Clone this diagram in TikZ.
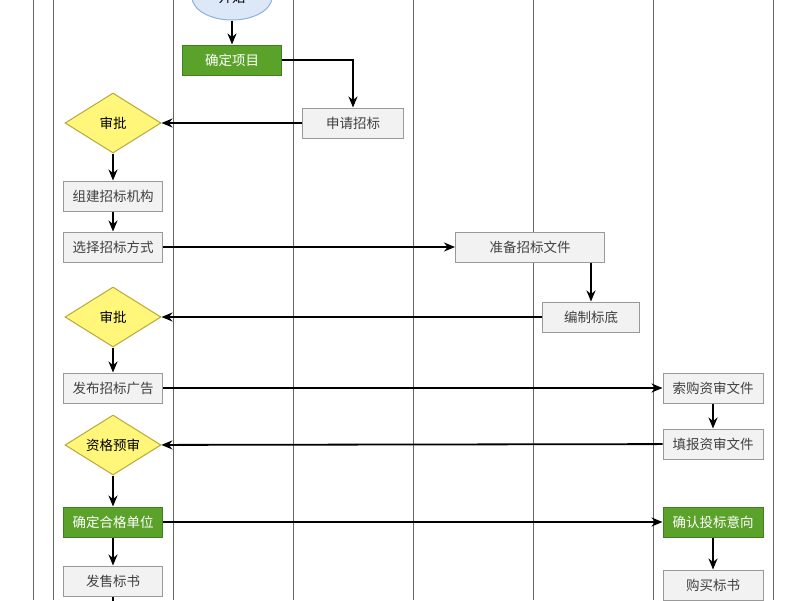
\documentclass[tikz,border=0pt]{standalone}
\usepackage{fontspec}
\setmainfont{Noto Sans CJK SC}
\usetikzlibrary{shapes.geometric,arrows.meta}
\definecolor{gfill}{HTML}{F2F2F2}
\definecolor{gline}{HTML}{999999}
\definecolor{green1}{HTML}{5BA22A}
\definecolor{green2}{HTML}{3F7F1F}
\definecolor{yfill}{HTML}{FFF67A}
\definecolor{yline}{HTML}{B8A93A}
\definecolor{bfill}{HTML}{DCE8F8}
\definecolor{bline}{HTML}{8FB0DA}
\begin{document}
\begin{tikzpicture}[x=1pt,y=-1pt,
  box/.style={draw=gline,fill=gfill,line width=1pt,minimum height=30,inner sep=1pt,font=\fontsize{13.5}{14}\selectfont,text=black!75},
  gbox/.style={draw=green2,fill=green1,line width=1pt,minimum height=30,inner sep=1pt,font=\fontsize{13.5}{14}\selectfont,text=white},
  dia/.style={diamond,aspect=1.6,draw=yline,fill=yfill,line width=1pt,minimum width=96,minimum height=60,inner sep=0pt,font=\fontsize{13.5}{14}\selectfont},
  arr/.style={-{Stealth[length=11,width=9]},line width=1.8pt,black},
  lane/.style={draw=black!60,line width=0.9pt}]
\useasboundingbox (0,0) rectangle (800,600);
\fill[white] (0,0) rectangle (800,600);
\foreach \x in {33,53,173,293,413,533,653,773} \draw[lane] (\x,0) -- (\x,600);
\node[ellipse,draw=bline,fill=bfill,line width=1pt,minimum width=80,minimum height=46] (s) at (232,-3) {\fontsize{13.5}{14}\selectfont 开始};
\node[gbox,minimum width=99] (a) at (232,60) {确定项目};
\node[box,minimum width=101] (b) at (353,123) {申请招标};
\node[dia] (c) at (113,123) {审批};
\node[box,minimum width=99] (d) at (113,196) {组建招标机构};
\node[box,minimum width=99] (e) at (113,247) {选择招标方式};
\node[box,minimum width=149] (f) at (530,247) {准备招标文件};
\node[box,minimum width=97] (g) at (591,317) {编制标底};
\node[dia] (h) at (113,317) {审批};
\node[box,minimum width=99] (i) at (113,388) {发布招标广告};
\node[box,minimum width=100] (j) at (713,388) {索购资审文件};
\node[dia] (k) at (113,445) {资格预审};
\node[box,minimum width=100] (l) at (713,444) {填报资审文件};
\node[gbox,minimum width=99] (m) at (113,522) {确定合格单位};
\node[gbox,minimum width=100] (n) at (713,522) {确认投标意向};
\node[box,minimum width=99] (o) at (113,581) {发售标书};
\node[box,minimum width=100] (p) at (713,585) {购买标书};
\coordinate (end) at (113,605);
\draw[arr] (s) -- (a);
\draw[arr] (a.east) -| (b.north);
\draw[arr] (b) -- (c);
\draw[arr] (c) -- (d);
\draw[arr] (d) -- (e);
\draw[arr] (e) -- (f);
\draw[arr] (f.south -| g.north) -- (g.north);
\draw[arr] (g) -- (h);
\draw[arr] (h) -- (i);
\draw[arr] (i) -- (j);
\draw[arr] (j) -- (l);
\draw[arr] (l) -- (k);
\draw[arr] (k) -- (m);
\draw[arr] (m) -- (n);
\draw[arr] (n) -- (p);
\draw[arr] (m) -- (o);
\draw[line width=1.8pt] (o) -- (end);
\end{tikzpicture}
\end{document}
